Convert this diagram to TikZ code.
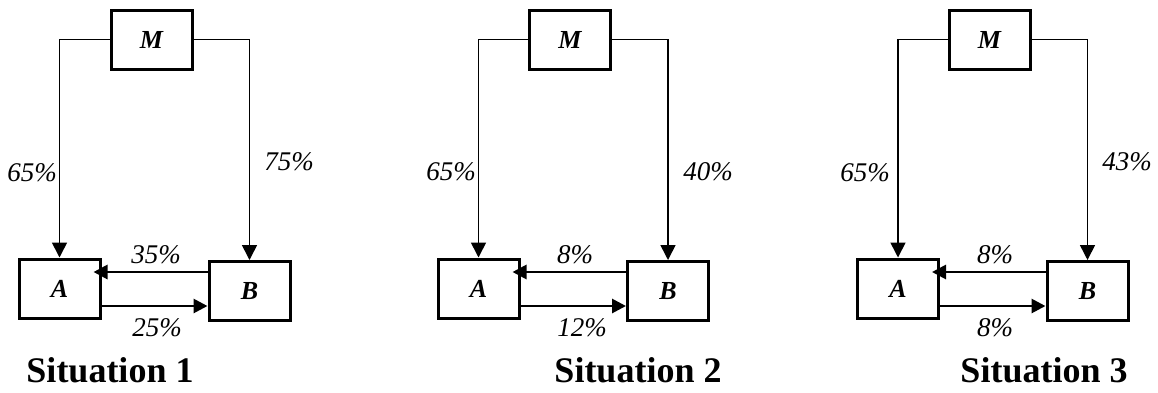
\documentclass[tikz,border=0pt]{standalone}
\usepackage{fontspec}
\setmainfont{Liberation Serif}
\usetikzlibrary{arrows.meta,calc}
\tikzset{
  boxnode/.style={draw,line width=3pt,minimum width=81pt,minimum height=59pt,inner sep=0pt,
    font=\fontsize{26}{26}\selectfont\bfseries\itshape},
  thinflow/.style={line width=1.6pt,-{Triangle[length=15pt,width=15pt]}},
  thickflow/.style={line width=2.8pt,-{Triangle[length=14pt,width=14pt]}},
  pct/.style={inner sep=0pt,font=\fontsize{27}{27}\selectfont\itshape},
  sitlabel/.style={inner sep=0pt,font=\fontsize{36}{36}\selectfont\bfseries},
}
\begin{document}
\begin{tikzpicture}[x=1pt,y=-1pt]
\useasboundingbox (0,0) rectangle (1158,392);
% Situation 1
\node[boxnode] (M1) at (151.5,39.5) {M};
\node[boxnode] (A1) at (59.5,288.5) {A};
\node[boxnode] (B1) at (249.5,291) {B};
\draw[thinflow] (M1.west) -| (A1.north);
\draw[thinflow] (M1.east) -| (B1.north);
\coordinate (b1) at ($(B1.west)+(0,19pt)$);
\coordinate (a1) at ($(A1.east)+(0,-17.5pt)$);
\draw[thickflow,shorten >=-8pt] (b1) -- (b1 -| A1.east);
\draw[thickflow] (a1) -- (a1 -| B1.west);
\node[pct] (p11) at (32,173) {65\%};
\node[pct] (p12) at (289,162) {75\%};
\node[pct] (p13) at (156,255) {35\%};
\node[pct] (p14) at (157,328) {25\%};
\node[sitlabel] (s1) at (110,370) {Situation 1};
% Situation 2
\node[boxnode] (M2) at (570,39.5) {M};
\node[boxnode] (A2) at (478.5,288.5) {A};
\node[boxnode] (B2) at (668,291) {B};
\draw[thinflow] (M2.west) -| (A2.north);
\draw[thinflow] (M2.east) -| (B2.north);
\coordinate (b2) at ($(B2.west)+(0,19pt)$);
\coordinate (a2) at ($(A2.east)+(0,-17.5pt)$);
\draw[thickflow,shorten >=-8pt] (b2) -- (b2 -| A2.east);
\draw[thickflow] (a2) -- (a2 -| B2.west);
\node[pct] (p21) at (451,172) {65\%};
\node[pct] (p22) at (708,172) {40\%};
\node[pct] (p23) at (575,255) {8\%};
\node[pct] (p24) at (582,328) {12\%};
\node[sitlabel] (s2) at (638,370) {Situation 2};
% Situation 3
\node[boxnode] (M3) at (989.5,39.5) {M};
\node[boxnode] (A3) at (898,288.5) {A};
\node[boxnode] (B3) at (1087.5,291) {B};
\draw[thinflow] (M3.west) -| (A3.north);
\draw[thinflow] (M3.east) -| (B3.north);
\coordinate (b3) at ($(B3.west)+(0,19pt)$);
\coordinate (a3) at ($(A3.east)+(0,-17.5pt)$);
\draw[thickflow,shorten >=-8pt] (b3) -- (b3 -| A3.east);
\draw[thickflow] (a3) -- (a3 -| B3.west);
\node[pct] (p31) at (865,173) {65\%};
\node[pct] (p32) at (1127,162) {43\%};
\node[pct] (p33) at (995,255) {8\%};
\node[pct] (p34) at (995,328) {8\%};
\node[sitlabel] (s3) at (1044,370) {Situation 3};
\end{tikzpicture}
\end{document}
